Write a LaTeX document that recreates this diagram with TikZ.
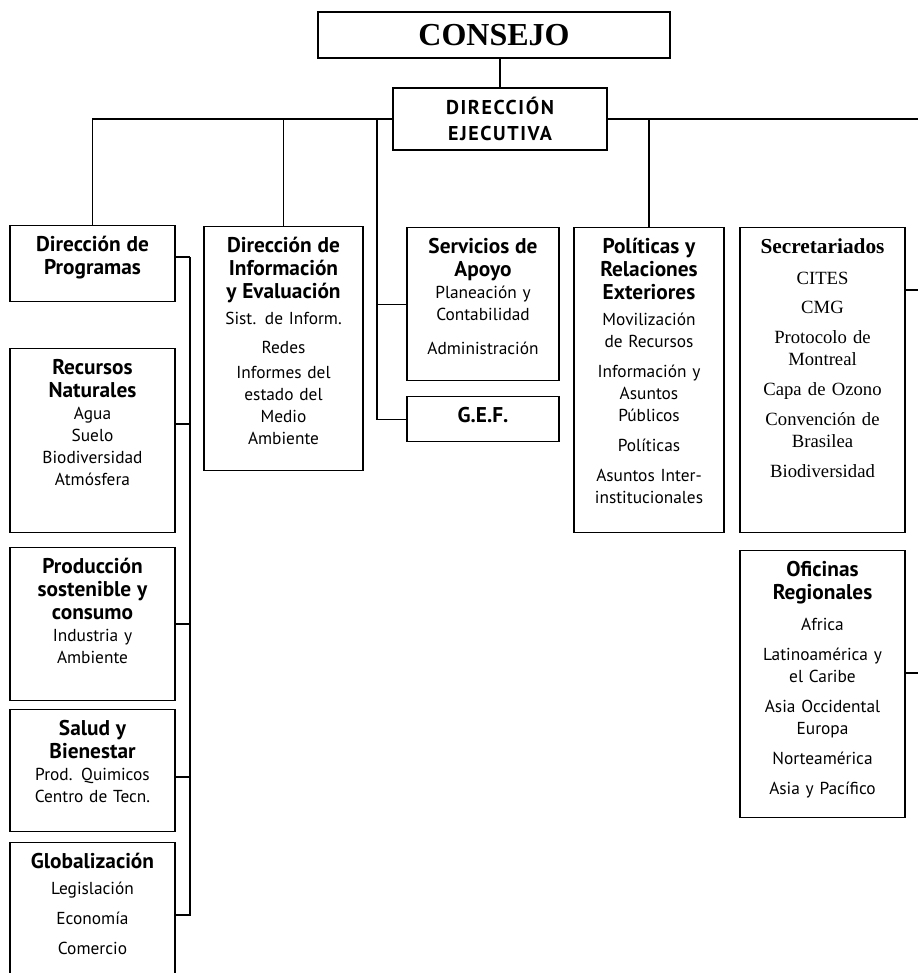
\documentclass[tikz,border=0pt]{standalone}
\usepackage{fontspec}
\setmainfont{Liberation Serif}
\newfontfamily\orgsans{PT Sans}
\newcommand{\orghead}[1]{{\bfseries\fontsize{16}{17.5}\selectfont #1\par}\vspace{3pt}}

\begin{document}
\begin{tikzpicture}[x=0.75pt, y=-0.75pt,
    orgbox/.style={draw, line width=1.1pt, inner xsep=2pt, inner ysep=6pt,
        anchor=north, align=center, text height=13pt,
        font=\orgsans\fontsize{13}{16.5}\selectfont},
    link/.style={line width=0.9pt}]

    % Page
    \useasboundingbox (0,0) rectangle (917,973);
    \fill[white] (0,0) rectangle (917,973);

    % Top of the chart
    \node[draw, line width=1.1pt, minimum width=264pt, minimum height=34.5pt, inner sep=0pt,
        font=\bfseries\fontsize{24}{28}\selectfont] (consejo) at (494,35) {CONSEJO};
    \node[draw, line width=1.1pt, minimum width=160.5pt, minimum height=46.5pt, inner sep=0pt,
        align=center, font=\orgsans\bfseries\fontsize{15}{19}\selectfont\addfontfeature{LetterSpace=8}]
        (dirEj) at (500,119) {DIRECCIÓN\\EJECUTIVA};

    % Left column
    \node[orgbox, text width=119.75pt, text depth=32pt] (progs) at (92.5,225)
        {\orghead{Dirección de\\Programas}};
    \node[orgbox, text width=119.75pt, text depth=113pt] (recn) at (92.5,348)
        {\orghead{Recursos\\Naturales}\vspace{-3pt}Agua\\Suelo\\Biodiversidad\\Atmósfera};
    \node[orgbox, text width=119.75pt, text depth=89.75pt] (prod) at (92.5,547)
        {\orghead{Producción\\sostenible y\\consumo}\vspace{-3pt}Industria y\\Ambiente};
    \node[orgbox, text width=119.75pt, text depth=66.5pt] (salud) at (92.5,709)
        {\orghead{Salud y\\Bienestar}\vspace{-3pt}Prod. Quimicos\\Centro de Tecn.};
    \node[orgbox, text width=119.75pt, text depth=125pt] (glob) at (92.5,842)
        {\orghead{Globalización}Legislación\\[6pt]Economía\\[6pt]Comercio};

    % Middle columns
    \node[orgbox, text width=115.25pt, text depth=158pt] (info) at (283.5,226)
        {\orghead{Dirección de\\Información\\y Evaluación}Sist. de Inform.\\[5pt]Redes\\[2pt]Informes del\\estado del\\Medio\\Ambiente};
    \node[orgbox, text width=110pt, text depth=89.75pt] (serv) at (483,227)
        {\orghead{Servicios de\\Apoyo}\vspace{-3pt}Planeación y\\Contabilidad\\[9pt]Administración};
    \node[orgbox, text width=110pt, text depth=8.75pt] (gef) at (483,396)
        {\bfseries\fontsize{16}{17.5}\selectfont G.E.F.};
    \node[orgbox, text width=108.5pt, text depth=203.75pt] (pol) at (649,227)
        {\orghead{Políticas y\\Relaciones\\Exteriores}Movilización\\de Recursos\\[6pt]Información y\\Asuntos\\Públicos\\[6pt]Políticas\\[6pt]Asuntos Inter-\\institucionales};

    % Right column
    \node[orgbox, text width=119.75pt, text depth=203.75pt,
        font=\rmfamily\fontsize{14}{16.5}\selectfont] (secr) at (822.5,227)
        {\orghead{Secretariados}\vspace{4pt}CITES\\[5pt]CMG\\[6pt]Protocolo de\\Montreal\\[6pt]Capa de Ozono\\[6pt]Convención de\\Brasilea\\[6pt]Biodiversidad};
    \node[orgbox, text width=119.75pt, text depth=175.25pt] (ofic) at (822.5,550)
        {\orghead{Oficinas\\Regionales}\vspace{4pt}Africa\\[6pt]Latinoamérica y\\el Caribe\\[6pt]Asia Occidental\\Europa\\[6pt]Norteamérica\\[6pt]Asia y Pacífico};

    % Bus points
    \coordinate (busL) at (190,257);
    \coordinate (busM) at (377,118);
    \coordinate (busR) at (919,122);

    % Connectors
    \draw[link] (dirEj.north) -- (dirEj.north |- consejo.south);
    \draw[link] (dirEj.west) -| (progs.north);
    \draw[link] (info.north) -- (info.north |- dirEj.west);
    \draw[link] (serv.west) -| (busM);
    \draw[link] (gef.west) -| (busM);
    \draw[link] (dirEj.east) -- (dirEj.east -| busR);
    \draw[link] (pol.north) -- (pol.north |- dirEj.east);
    \draw[link] ([yshift=-47.25pt]secr.north east) -| (busR);
    \draw[link] ([yshift=-92.25pt]ofic.north east) -| (busR);
    \foreach \n/\s in {progs/-24pt, recn/-57pt, prod/-57.75pt, salud/-51pt, glob/-54.75pt}
        \draw[link] ([yshift=\s]\n.north east) -| (busL);

\end{tikzpicture}
\end{document}
